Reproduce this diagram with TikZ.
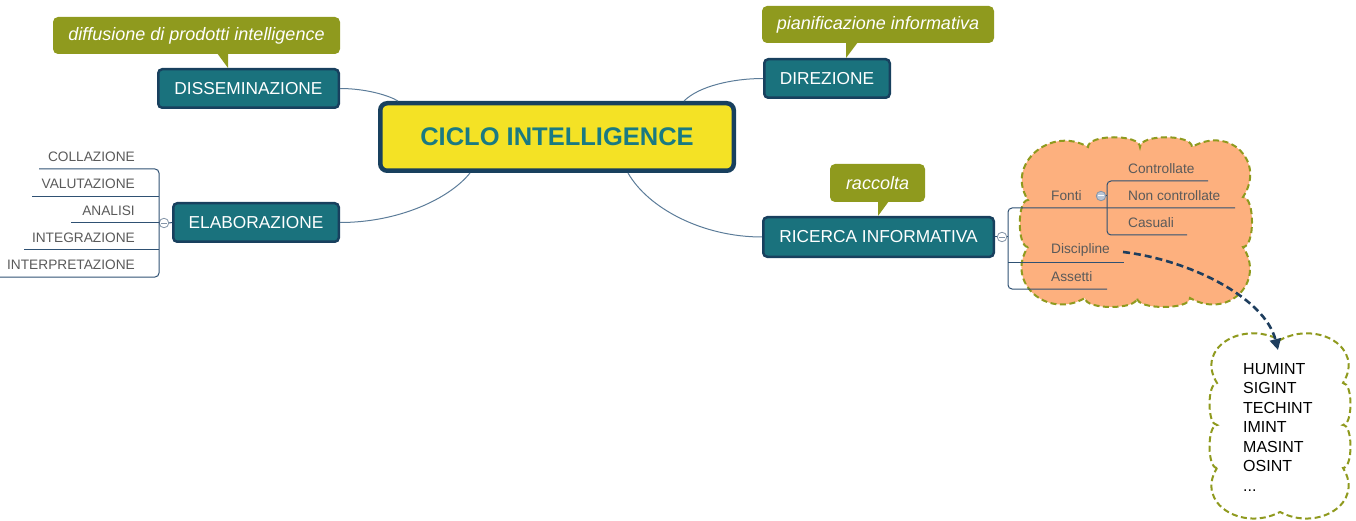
\documentclass[tikz,border=0pt]{standalone}
\usepackage{fontspec}
\setmainfont{Liberation Sans}
\usetikzlibrary{calc,arrows.meta}
\definecolor{boxfill}{HTML}{1A727D}
\definecolor{boxborder}{HTML}{18405E}
\definecolor{cenfill}{HTML}{F4E225}
\definecolor{centext}{HTML}{1A7A82}
\definecolor{calloutc}{HTML}{8F9A1E}
\definecolor{cloudfill}{HTML}{FDB07E}
\definecolor{connc}{HTML}{5C7C99}
\definecolor{branchc}{HTML}{2F5173}
\definecolor{subgray}{HTML}{5A5A5A}
\definecolor{markc}{HTML}{8595A8}
\definecolor{markfill}{HTML}{B9C5D6}
\definecolor{arrowc}{HTML}{1E3E5E}
\begin{document}
\begin{tikzpicture}[x=1pt,y=-1pt,
  mainbox/.style={draw=boxborder, fill=boxfill, line width=2.5pt, rounded corners=4pt,
    text=white, font=\fontsize{17.3}{19}\selectfont, inner sep=0pt, minimum height=38.5pt},
  cenbox/.style={draw=boxborder, fill=cenfill, line width=4.5pt, rounded corners=7pt,
    text=centext, font=\bfseries\fontsize{25.5}{28}\selectfont, inner sep=0pt},
  callout/.style={fill=calloutc, rounded corners=5pt, text=white,
    font=\itshape\fontsize{18}{20}\selectfont, inner sep=0pt, minimum height=37pt},
  conn/.style={draw=connc, line width=1pt},
  branch/.style={draw=branchc, line width=1pt},
  sub/.style={text=subgray, font=\fontsize{13.7}{15}\selectfont, inner sep=0pt},
  marker/.style={circle, draw=markc, fill=white, line width=0.8pt, minimum size=9.5pt, inner sep=0pt,
    path picture={\draw[markc, line width=0.9pt] ([xshift=2pt]path picture bounding box.west) -- ([xshift=-2pt]path picture bounding box.east);}},
  markerb/.style={circle, draw=markc, fill=markfill, line width=0.8pt, minimum size=9.5pt, inner sep=0pt,
    path picture={\draw[white, line width=1pt] ([xshift=2pt]path picture bounding box.west) -- ([xshift=-2pt]path picture bounding box.east);}},
  cloudline/.style={draw=calloutc, line width=2pt, dash pattern=on 6pt off 3.5pt},
  dasharrow/.style={draw=arrowc, line width=2.6pt, dash pattern=on 7pt off 4pt, -{Triangle[width=11pt,length=11pt]}}
]
\useasboundingbox (0,0) rectangle (1356,521);

% ---------- main nodes ----------
\node[cenbox, minimum width=353.5pt, minimum height=67.5pt] (cen) at (557,137) {CICLO INTELLIGENCE};
\node[mainbox, minimum width=180.5pt] (diss) at (248.5,88.5) {DISSEMINAZIONE};
\node[mainbox, minimum width=165.5pt] (elab) at (256,222.5) {ELABORAZIONE};
\node[mainbox, minimum width=125.5pt] (dir) at (827,78.5) {DIREZIONE};
\node[mainbox, minimum width=230.5pt, minimum height=39.5pt] (ric) at (878.5,237) {RICERCA INFORMATIVA};

% ---------- connectors from centre ----------
\draw[conn] (diss.east) .. controls +(25,0) and +(-10,-6) .. ($(cen.north west)+(20,0)$);
\draw[conn] (elab.east) .. controls +(60,0) and +(-20,25) .. ($(cen.south west)+(92,0)$);
\draw[conn] ($(cen.north east)+(-52,0)$) .. controls +(15,-15) and +(-30,0) .. (dir.west);
\draw[conn] ($(cen.south east)+(-108,0)$) .. controls +(20,35) and +(-60,0) .. (ric.west);

% ---------- callouts ----------
\node[callout, minimum width=287pt] (cdiss) at (196.5,35.5) {diffusione di prodotti intelligence};
\coordinate (pd1) at (217,53); \coordinate (pd2) at (228,53); \coordinate (pd3) at (228,68);
\fill[calloutc] (pd1) -- (pd2) -- (pd3) -- cycle;
\node[callout, minimum width=232pt] (cdir) at (878,24.5) {pianificazione informativa};
\coordinate (pr1) at (846,42); \coordinate (pr2) at (858,42); \coordinate (pr3) at (846,58);
\fill[calloutc] (pr1) -- (pr2) -- (pr3) -- cycle;
\node[callout, minimum width=95pt, minimum height=38pt] (cric) at (877.5,183) {raccolta};
\coordinate (pc1) at (878,201); \coordinate (pc2) at (889,201); \coordinate (pc3) at (878,216);
\fill[calloutc] (pc1) -- (pc2) -- (pc3) -- cycle;

% ---------- clouds ----------
\path[fill=cloudfill, cloudline]
  (1028,247) .. controls (1017,247) and (1017,200) .. (1028,200)
  .. controls (1005,165) and (1050,125) .. (1088,147)
  .. controls (1088,134) and (1140,134) .. (1140,147)
  .. controls (1140,134) and (1192,134) .. (1192,147)
  .. controls (1230,125) and (1266,162) .. (1243,197)
  .. controls (1255,197) and (1255,247) .. (1243,247)
  .. controls (1266,282) and (1228,320) .. (1190,298)
  .. controls (1190,310) and (1137,310) .. (1137,298)
  .. controls (1137,310) and (1085,310) .. (1085,298)
  .. controls (1047,320) and (1005,282) .. (1028,247) -- cycle;

\path[fill=white, cloudline]
  (1217,468) .. controls (1207,468) and (1207,425) .. (1217,425)
  .. controls (1207,425) and (1207,383) .. (1217,383)
  .. controls (1195,348) and (1242,320) .. (1280,340)
  .. controls (1318,320) and (1365,348) .. (1343,383)
  .. controls (1353,383) and (1353,425) .. (1343,425)
  .. controls (1353,425) and (1353,468) .. (1343,468)
  .. controls (1365,503) and (1318,532) .. (1280,512)
  .. controls (1242,532) and (1195,503) .. (1217,468) -- cycle;

% ---------- ELABORAZIONE sub-topics ----------
\node[sub, anchor=east] (coll) at (135,157) {COLLAZIONE};
\node[sub, anchor=east] (valu) at (135,184) {VALUTAZIONE};
\node[sub, anchor=east] (anal) at (135,211) {ANALISI};
\node[sub, anchor=east] (integ) at (135,238) {INTEGRAZIONE};
\node[sub, anchor=east] (interp) at (135,265) {INTERPRETAZIONE};
\node[marker] (em) at (164,223) {};
\draw[branch, rounded corners=4pt] (39,169) -- (159,169) -- (159,277) -- (0,277);
\draw[branch] (32,197) -- (159,197);
\draw[branch] (71,223) -- (em.west);
\draw[branch] (24,250) -- (159,250);
\draw[branch] (em.east) -- (elab.west);

% ---------- RICERCA sub-topics ----------
\node[sub, anchor=west] (fonti) at (1051,196) {Fonti};
\node[sub, anchor=west] (disc) at (1051,250) {Discipline};
\node[sub, anchor=west] (ass) at (1051,277) {Assetti};
\node[sub, anchor=west] (contr) at (1128,169) {Controllate};
\node[sub, anchor=west] (ncontr) at (1128,196) {Non controllate};
\node[sub, anchor=west] (cas) at (1128,223) {Casuali};
\node[marker] (rm) at (1002,237) {};
\node[markerb] (fm) at (1101,196) {};
\draw[branch] (ric.east) -- (rm.west);
\draw[branch] (rm.east) -- (1008,237);
\draw[branch, rounded corners=4pt] (1235,208) -- (1008,208) -- (1008,289) -- (1107,289);
\draw[branch] (1008,262) -- (1124,262);
\draw[branch, rounded corners=4pt] (1208,181) -- (1107,181) -- (1107,235) -- (1187,235);
\draw[branch] (fm.east) -- (1107,196);

% ---------- disciplines cloud ----------
\node[anchor=north west, align=left, inner sep=0pt, text=black,
  font=\fontsize{16}{19.5}\selectfont] (list) at (1243,363)
  {HUMINT\\SIGINT\\TECHINT\\IMINT\\MASINT\\OSINT\\...};
\coordinate (arrtip) at (1278,350);
\draw[dasharrow] ($(disc.east)+(13,2)$) .. controls (1190,260) and (1265,298) .. (arrtip);
\end{tikzpicture}
\end{document}
